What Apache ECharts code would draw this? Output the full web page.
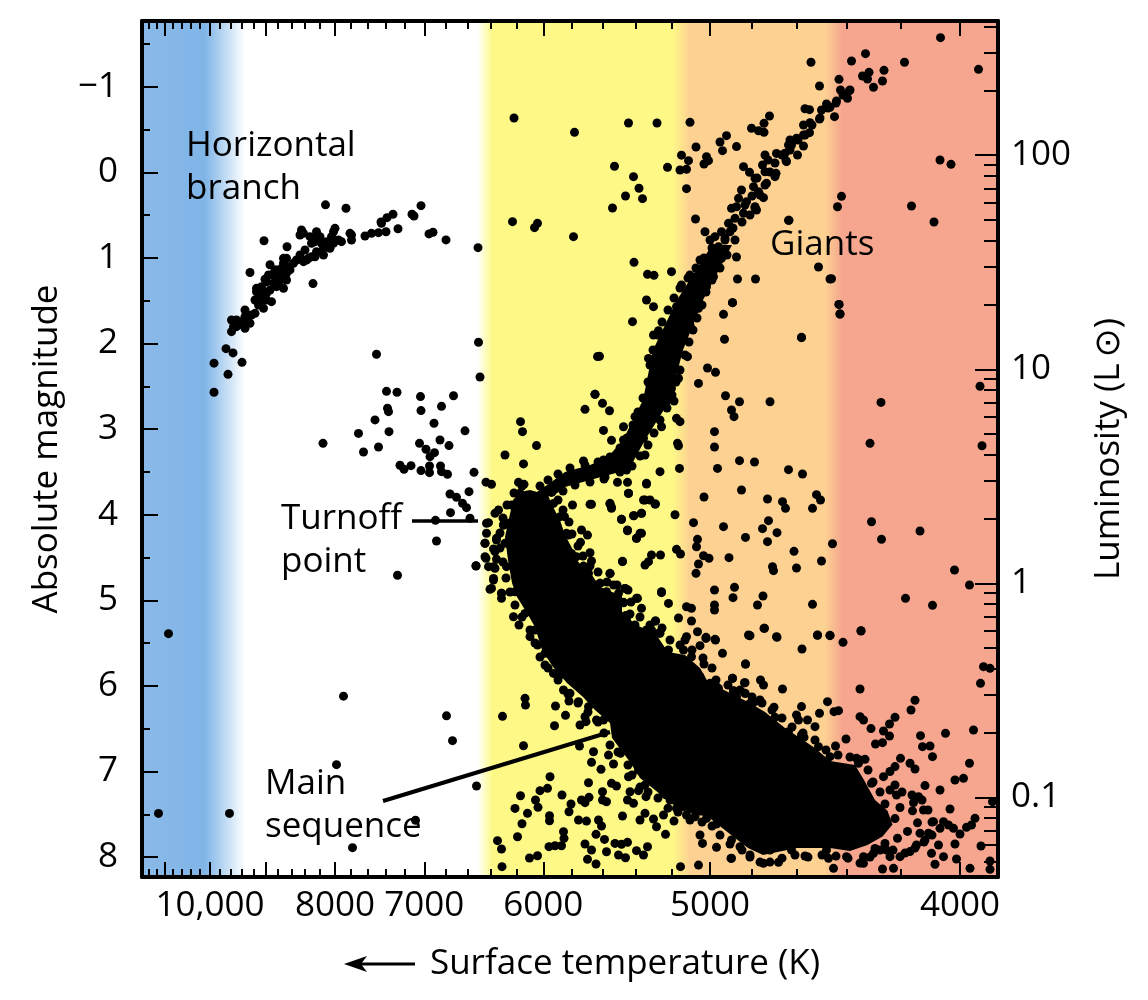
<!DOCTYPE html>
<html><head><meta charset="utf-8"><style>html,body{margin:0;background:#fff}#c{width:1148px;height:1000px}</style>
<script src="https://cdn.jsdelivr.net/npm/echarts@6/dist/echarts.min.js"></script></head><body><div id="c"></div>
<script>
// x values are inverse temperature in mired (1e6/T), y values are absolute magnitude
const xMajorTemps=[11000,10000,9000,8000,7000,6000,5000,4000];
const xLabelTemps=[10000,8000,7000,6000,5000,4000];
const xMinorTemps=[11400,11200,10800,10600,10400,10200,9800,9600,9400,9200,8800,8600,8400,8200,7800,7600,7400,7200,6800,6600,6400,6200,5800,5600,5400,5200,4800,4600,4400,4200];
const magMajor=[-1,0,1,2,3,4,5,6,7,8];
const magMinor=[-1.5,-0.5,0.5,1.5,2.5,3.5,4.5,5.5,6.5,7.5];
const lumMajor=[100,10,1,0.1];
const lumMinor=[400,300,200,90,80,70,60,50,40,30,20,9,8,7,6,5,4,3,2,0.9,0.8,0.7,0.6,0.5,0.4,0.3,0.2,0.09,0.08,0.07,0.06,0.05];

const horizontalBranch=[[123.1,.38],[127.2,.42],[142.2,.39],[136.6,.49],[140.4,.49],[140.8,.51],[135.4,.53],[134.2,.58],[137.6,.66],[144.6,.70],[143.8,.72],[147.2,.79],[153.6,.88],[110.8,.80],[115.4,.87],[108,1.17],[120.6,1.30],[131,.744],[132.3,.713],[133.7,.705],[135.2,.694],[134.3,.596],[128.3,.733],[128.3,.791],[125,.655],[126.3,.81],[124,.888],[124.3,.752],[121.3,.694],[120,.752],[118.3,.674],[118,.733],[121,.81],[122.3,.83],[122.7,.966],[121,.986],[119.3,1.025],[118,.966],[118.7,1.044],[115.3,1.005],[114.7,1.063],[116,1.14],[113,1.14],[111.7,1.2],[114,1.18],[115.3,1.258],[113.3,1.239],[114.7,1.356],[112.7,1.297],[110.3,1.336],[109.3,1.395],[111.3,1.414],[112.3,1.511],[109,1.492],[110.7,1.589],[109,1.648],[107,1.609],[107.3,1.726],[104.3,1.726],[106,1.745],[108,1.764],[107,1.823],[105.3,1.803],[104.3,1.862],[112,1.08],[113.6,1.3],[111,1.25],[100.8,2.23],[103.2,2.06],[104.6,2.11],[106.4,2.22],[103.6,2.36],[100.8,2.57],[123.3,.81],[122,.752],[120.3,.83],[119,.908],[117.3,1.025],[116.7,1.063],[115.7,1.102],[114.3,1.122],[114,1.258],[112.3,1.2],[113.3,1.336],[112,1.375],[110.7,1.395],[110,1.453],[111.3,1.492],[109.7,1.55],[110.3,1.511],[108.3,1.667],[107,1.687],[106.7,1.784],[105.3,1.726],[104.7,1.803],[125.7,.791],[124.7,.83],[122.7,.888],[121.3,.927],[120.3,.986],[119.7,1.005],[115.3,1.18],[115,1.219],[113.3,1.141],[111.3,1.278],[109.3,1.356],[118.7,.713],[121.3,.752],[124.7,.694],[128,.713],[114.7,1.005]];
const hotFieldStars=[[91.7,5.39],[89.7,7.49],[103.9,7.49],[126.7,6.12],[147.3,6.35],[148.5,6.64],[125.3,6.92],[153.3,7.17],[141.1,7.57],[128.5,7.89]];
const blueStragglers=[[133.3,2.126],[135.3,2.559],[137.4,2.57],[142.1,2.62],[148.7,2.61],[146.3,2.734],[135.5,2.757],[135.7,2.796],[142.2,2.784],[133,2.893],[144.8,2.932],[135.8,3.03],[129.7,3.05],[151,3.02],[146,3.127],[141.9,3.166],[147.8,3.193],[122.6,3.166],[133.7,3.209],[130.7,3.267],[143.2,3.236],[144.9,3.275],[144,3.322],[138,3.423],[140.2,3.427],[138.8,3.47],[143.9,3.431],[146.1,3.431],[142.2,3.485],[143.9,3.509],[146.3,3.497],[147.5,3.528],[152.8,3.505],[151.8,3.731],[148,3.758],[149.3,3.797],[150.5,3.867],[151.3,3.918],[148.1,3.976],[152,4.042],[145.1,4.066],[145.3,4.307],[137.5,4.708],[153.7,1.986],[154,2.391],[155.2,3.62],[156.3,3.645],[162.1,2.913],[162.5,3.03],[159,3.302],[165.3,3.193],[162.7,3.407],[177,2.594],[175,2.769],[177.5,2.153],[174.7,3.372],[161.7,3.622],[162.8,3.645],[157.7,3.945],[155.7,4.093],[155.3,4.217],[155,4.334],[157.3,4.276],[158.7,4.12],[155.2,4.51],[153.2,4.6],[155.7,4.607],[157,4.626],[156.7,4.763],[156,4.871],[158.3,4.918],[158.3,4.977],[156.7,4.4],[157.3,4.52]];
const giantFieldStars=[[160.8,-.634],[172.9,-.467],[183.7,-.576],[189.4,-.576],[196,-.584],[220.2,-1.285],[221.9,-1.008],[180.9,-.07],[191.5,-.058],[184.7,.051],[185.8,.187],[183.1,.277],[186.5,.308],[180.5,.417],[195.3,.191],[194.3,-.2],[195.7,-.136],[194,-.027],[195.3,-.035],[197.2,-.295],[199.3,-.183],[199.7,-.136],[198.8,-.097],[202,-.354],[203.3,-.428],[202.5,-.253],[205.3,-.3],[208.3,-.514],[209.7,-.486],[210.8,-.467],[210.8,-.572],[211.9,-.658],[160.5,.577],[165.5,.596],[164.9,.647],[172.7,.752],[197.1,.546],[184.8,1.052],[187.5,1.192],[188.8,1.204],[192.3,1.161],[205.3,.99],[205.5,1.247],[209.1,1.247],[204.5,1.523],[215.7,.561],[221.7,1.106],[224,1.247],[187.3,1.492],[188.7,1.57],[246.1,-1.573],[231.1,-1.386],[228.3,-1.3],[238.9,-1.285],[253.7,-1.203],[234.8,-1.191],[231.8,-1.168],[230.5,-1.125],[231.5,-1.09],[225.8,-1.086],[234.5,-1.067],[232.7,-.993],[226.1,-.961],[227.9,-.954],[246,-.144],[248.2,-.093],[226.3,.281],[225.5,.402],[240.3,.394],[244.8,.581],[215.8,.561],[224.3,1.243],[225.8,1.543],[226,1.655],[218.3,1.932]];
const giantBranch=[[227.5,-.864],[225.3,-.833],[223.3,-.798],[224,-.759],[222.3,-.728],[219,-.743],[219.9,-.732],[224.9,-.65],[221.9,-.623],[220,-.58],[218.7,-.553],[219.9,-.463],[218.7,-.436],[217.3,-.397],[216,-.377],[216.3,-.319],[218.7,-.307],[217.5,-.202],[215,-.222],[215.2,-.136],[215.7,-.319],[213.3,-.221],[215.3,-.124],[211,-.202],[210.5,-.085],[206.7,-.066],[207.9,0],[211,-.007],[213.2,.012],[213,.051],[211.3,.129],[209,.07],[208.7,.168],[206.3,.207],[209.7,.226],[210.7,.296],[205.7,.304],[207.3,.343],[209,.402],[205.3,.402],[204.3,.421],[206.7,.479],[209.3,.44],[205,.538],[203.7,.596],[204,.694],[202.3,.694],[203,.791],[201,.752],[201.7,.869],[199,.694],[200,.791],[200.7,.986],[198,1.025],[199.3,1.083],[202.3,1.005],[200.7,1.219],[196,1.2],[198.7,1.18],[197.3,1.258],[199.3,1.336],[194.3,1.317],[196.7,1.375],[195.3,1.453],[197.7,1.511],[193.3,1.57],[196,1.57],[187.7,2.174],[196,1.784],[197.7,1.589],[192.3,2.524],[191.3,2.68],[185,2.855],[182.7,3.127],[178.7,3.361],[177,3.459],[183.3,3.478],[186.7,3.108],[203,.768],[204.6,.651],[206.4,.581],[208,.499],[207,.382],[209,.417],[208.4,.277],[210,.265],[211,.148],[209.4,.067],[212,-.004],[213,-.109],[211.6,-.144],[214.4,-.202],[216,-.26],[217.6,-.377],[219,-.436],[220.4,-.553],[222,-.634],[223.6,-.751],[225.2,-.81],[226.6,-.903],[228,-.961]];
const giantBranchRim=[[167.6,3.595],[169.6,3.525],[172,3.454],[175,3.419],[177.6,3.384],[180,3.326],[182,3.221],[183.4,3.104],[184.6,2.952],[185.6,2.8],[186.6,2.637],[187.6,2.45],[188,2.251],[188.6,2.076],[189.6,1.901],[190.4,1.749],[191.6,1.609],[192.8,1.469],[194,1.352],[195.6,1.235],[197.2,1.118],[198.8,1.001],[200.4,.884],[205,.791],[203.4,.966],[202,1.118],[200.4,1.258],[199.2,1.398],[198.4,1.55],[197.4,1.702],[196.6,1.842],[195.8,1.983],[195,2.134],[194,2.31],[193.2,2.45],[192.4,2.602],[191.4,2.753],[190,2.894],[188.8,3.046],[187.6,3.186],[186,3.314],[184.4,3.431],[182,3.501],[179,3.56],[176,3.618],[173,3.653],[170.6,3.723]];
const coolFieldStars=[[204.5,1.523],[202.7,1.659],[225.8,1.543],[226,1.656],[202.9,1.951],[218.3,1.928],[184.5,1.745],[188.7,1.901],[189.7,1.85],[177.9,2.15],[195.5,2.154],[199.5,2.286],[201.1,2.337],[193.7,2.407],[197.7,2.466],[254,2.5],[177,2.594],[203.1,2.61],[205.9,2.68],[212,2.68],[234.2,2.688],[178.5,2.699],[179.9,2.785],[204.3,2.777],[204.8,2.855],[192.8,2.672],[193.3,2.874],[194,2.913],[182.7,2.972],[178.7,3.015],[180.3,3.131],[190.3,2.972],[200.9,3.03],[193.5,3.166],[193.7,3.194],[200.9,3.209],[232,3.166],[254.4,3.194],[205.9,3.369],[208.9,3.385],[201.5,3.459],[193.9,3.459],[215.7,3.474],[218.5,3.525],[190,3.497],[187.3,3.634],[187,3.303],[183.5,3.622],[181.5,3.622],[178.8,3.583],[183.7,3.75],[206.3,3.712],[198.8,3.793],[211.5,3.817],[221.3,3.766],[222.1,3.828],[214.5,3.848],[215.1,3.926],[220.5,3.926],[186.7,3.828],[188,3.828],[189.1,3.875],[180,3.867],[180.3,3.914],[176.3,3.879],[186.3,3.984],[184.8,4.011],[182.3,4.054],[193,4],[196.7,4.093],[202.7,4.14],[211.7,4.07],[210.5,4.163],[213.4,4.21],[232.3,4.082],[242,4.191],[234.3,4.288],[183.5,4.187],[186,4.218],[185.3,4.276],[207.1,4.265],[211.5,4.315],[224.5,4.339],[197.5,4.288],[197.3,4.374],[193.3,4.405],[194.1,4.459],[190.1,4.471],[188.3,4.471],[198.7,4.479],[199.8,4.51],[203.8,4.502],[216.8,4.428],[222.3,4.541],[182.5,4.549],[187.7,4.549],[187,4.588],[197.7,4.576],[197.2,4.685],[248.9,4.646],[251.9,4.821],[212.5,4.607],[217.3,4.623],[212.7,4.654],[180,4.689],[200.9,4.88],[204.9,4.849],[204.6,4.969],[210.6,4.95],[239.1,4.977],[244.5,5.059],[220.5,5.047],[209.5,5.055],[200.9,5.055],[200.9,5.114],[195.3,5.075],[196.3,5.094],[190.3,4.911],[191.7,5.036],[185.5,4.977],[182.7,5.024],[186.3,5.094],[183.1,5.18],[189.1,5.242],[193.7,5.207],[196.3,5.242],[197.5,5.367],[210.8,5.328],[208,5.413],[213.3,5.425],[221.5,5.405],[224,5.413],[230.2,5.355],[195.3,5.425],[199.2,5.433],[201,5.456],[188.3,5.347],[190,5.386],[178,4.802],[180.7,4.821],[183,4.861]];
const mainSequenceUpperFringe=[[172.5,3.887],[176,3.879],[170.9,4.023],[180,3.875],[180.3,3.926],[183.7,3.751],[187.3,3.642],[187,3.829],[189,3.875],[186.3,3.984],[184.7,4.012],[182.3,4.054],[183.5,4.179],[186.3,4.218],[185.3,4.276],[174.3,4.179],[175.5,4.238],[171.7,4.238],[174.1,4.323],[176,4.444],[176.3,4.541],[182.5,4.545],[173.3,4.49],[174.7,4.6],[175.7,4.685],[180,4.685],[178,4.802],[183,4.861],[179.3,4.9],[181.7,4.919],[185.3,4.977],[190.3,4.9],[182.7,5.028],[183.2,5.18],[189.1,5.242],[185,5.289],[187.3,5.347],[189.7,5.386],[195,5.464],[199.2,5.445],[201.1,5.464],[198,5.53],[207.7,5.406],[202.5,5.62],[207.1,5.745],[204.5,5.912],[207,5.963],[207,6.087],[204.7,6.056],[191.7,5.581],[194.7,5.581],[196.3,5.659],[198.8,5.745],[192.7,5.698],[197.3,5.873],[200,5.97],[201.7,6.029],[168.7,3.868],[170,4.023],[171.3,4.218],[172.3,4.452],[174.7,4.646],[177.3,4.841],[180,5],[183.3,5.23],[186.7,5.386],[194.7,5.737],[198,5.892],[201.3,6.009],[205.3,6.126],[208,6.204]];
const mainSequenceLeftFringe=[[153.2,4.596],[157,3.984],[155.3,4.101],[158.7,4.12],[155,4.335],[157.3,4.296],[155,4.491],[157,4.432],[156.7,4.607],[156.3,4.861],[158.3,4.919],[156.7,4.744],[160.7,5.192],[161.8,5.289],[164,5.425],[165.5,5.523],[167,5.756],[168.7,5.854],[170.7,6.048],[171.8,6.177],[173.7,6.185],[175,6.36],[177.3,6.399],[163,6.145],[163.1,6.224],[169.1,6.235],[171.1,6.344],[158.5,6.356],[168.9,6.465],[174,6.457],[175.2,6.418],[162.7,6.699],[162,3.75],[160.3,3.887],[159.7,4.1],[159,4.335],[159.3,4.607],[161,4.9],[163,5.153],[165,5.347],[167,5.62],[169.7,5.893],[172,6.087],[175.7,6.243],[178.7,6.399]];
const mainSequenceLowerFringe=[[173.9,6.702],[176.7,6.769],[179.7,6.808],[176.3,6.893],[180.7,6.913],[178.2,6.975],[182.1,6.788],[184.7,6.827],[185.7,6.983],[183.7,7.061],[175.7,7.131],[180.3,7.138],[181.3,7.17],[168,7.061],[167.5,7.197],[166,7.224],[162.1,7.283],[165.1,7.333],[170.4,7.275],[172.2,7.38],[171.8,7.47],[165.6,7.419],[161,7.431],[163.5,7.489],[174.3,7.333],[175.8,7.302],[175,7.364],[178.5,7.236],[178.5,7.333],[179.3,7.353],[167.9,7.516],[167.9,7.575],[162.4,7.61],[161.5,7.762],[157.5,7.808],[158.3,7.906],[173.7,7.567],[175.3,7.579],[177.7,7.567],[178.3,7.637],[170.7,7.703],[170.8,7.781],[170.3,7.867],[169,7.867],[167.8,7.878],[182.5,7.52],[177.2,7.734],[178.9,7.793],[181,7.84],[182.3,7.851],[183.5,7.828],[175,7.847],[176.3,7.917],[175.5,8.026],[177.2,8.081],[179.3,7.937],[181.7,7.976],[183.1,8.007],[185.3,7.925],[186.7,7.976],[187.5,7.879],[165.5,7.984],[163.9,8.011],[158.4,8.112],[183.5,7.333],[184.7,7.372],[186,7.567],[187,7.489],[188.7,7.555],[189.3,7.645],[190.7,7.508],[191.1,7.734],[192.8,7.579],[187.2,7.294],[185.7,7.224],[184,7.236],[188.5,7.068],[187,7.158],[191.3,7.275],[192,7.333],[193.3,7.431],[195.3,7.508],[197,7.528],[199.3,7.547],[201.3,7.614],[198,7.742],[198.5,7.84],[201.3,7.886],[197.7,8.093],[194.1,8.112],[204.2,8.015],[204.3,7.8],[203,7.614],[206,7.879],[182.7,6.671],[185.3,6.905],[188,7.1],[190.7,7.255],[194.7,7.411]];
const mainSequenceRim=[[166,3.665],[168.4,3.735],[169.6,3.828],[170.6,3.945],[171.8,4.085],[172.4,4.225],[173.6,4.366],[174.6,4.483],[176,4.599],[177.6,4.669],[179.4,4.786],[181.4,4.821],[183.6,4.88],[184.2,5.02],[184,5.16],[186,5.195],[188,5.289],[190.4,5.324],[192,5.464],[194,5.522],[196.4,5.581],[198.6,5.674],[200.4,5.791],[201.2,5.931],[203.6,5.989],[206,6.048],[208.4,6.13],[210.4,6.2],[212.4,6.282],[214.4,6.375],[216.4,6.48],[218.6,6.55],[221,6.632],[223.2,6.749],[225.6,6.807],[228,6.831],[230,6.866],[231.6,6.983],[232.6,7.123],[234,7.24],[236,7.216],[238.4,7.24],[240.4,7.275],[242.4,7.333],[243.6,7.45],[244.4,7.591],[244.4,7.743],[242.8,7.824],[241,7.894],[239,7.953],[236.6,7.918],[234,7.918],[232,8],[230,8.07],[227.6,8.012],[225.2,7.988],[222.4,7.976],[219.6,8],[217,7.976],[214.4,8.012],[212,8.058],[210,8.058],[208,8],[206.4,7.918],[204,7.848],[202,7.743],[200.4,7.638],[198.4,7.591],[196,7.568],[193.6,7.474],[191.6,7.428],[189.6,7.31],[187.6,7.24],[186,7.182],[184.4,7.041],[183.6,6.924],[181.6,6.772],[180,6.69],[178.8,6.55],[177.6,6.422],[175.6,6.305],[173.6,6.2],[171.6,6.095],[169.6,5.931],[167.6,5.791],[166,5.662],[165,5.499],[164,5.347],[162.4,5.195],[161,5.055],[160,4.903],[159.2,4.739],[158.6,4.553],[158,4.39],[158,4.214],[158.6,4.039],[159.4,3.887],[160.8,3.747],[162.4,3.665]];
const mainSequenceTail=[[235,7.38],[238,7.42],[240.5,7.46],[237,7.55],[241.5,7.6],[239.5,7.7],[237.5,7.78],[235,7.84],[233,7.9],[242,7.72]];
const coolDwarfStars=[[207.9,5.413],[210.9,5.327],[213.4,5.432],[221.5,5.409],[224,5.409],[230.2,5.359],[226.6,5.491],[218.4,5.569],[207.1,5.744],[204.5,5.911],[206.9,5.962],[210.1,5.931],[210.7,5.989],[207,6.087],[214.5,6.036],[204.7,6.059],[230,6.036],[223.5,6.184],[241,6.168],[240.2,6.281],[209,6.184],[210,6.165],[212.8,6.25],[218.3,6.242],[221.9,6.32],[224.8,6.301],[225.7,6.289],[217.3,6.34],[213,6.367],[217.7,6.398],[219.5,6.398],[221,6.476],[230,6.359],[230.7,6.398],[232.2,6.499],[237,6.367],[235.9,6.445],[234.7,6.527],[235.9,6.585],[242.1,6.581],[247.1,6.554],[252.7,6.515],[227.2,6.62],[225.1,6.702],[221.7,6.71],[233.1,6.679],[234.5,6.663],[242.5,6.71],[244,6.702],[244.5,6.827],[251.9,6.904],[254.1,5.97],[254.7,5.775],[256,5.795],[215.7,6.535],[218.3,6.573],[218.8,6.601],[224,6.827],[229.3,6.846],[231,6.858],[229.7,6.904],[238.1,6.846],[240,6.904],[241,6.971],[237,6.943],[236,7],[234.7,7.06],[232.3,7.138],[237,7.158],[243,7.165],[246,7.216],[249,7.099],[250.7,7.08],[237.3,7.274],[241.7,7.294],[240.7,7.364],[248,7.438],[256.5,7.352],[242.7,7.45],[253,7.547],[252.3,7.625],[251.3,7.652],[244.7,7.586],[246.7,7.586],[247.7,7.625],[248.7,7.664],[250,7.73],[243.7,7.722],[246,7.664],[249,7.847],[245.7,7.859],[254.2,7.87],[244.3,7.956],[246.7,7.995],[249.3,8.022],[245,8.084],[252,8.131],[256,8.046],[256,8.143],[240,7.936],[241.3,7.859],[243,7.8],[238,7.995],[236.7,8.131],[234.5,8.139],[230.7,8.073],[227.3,7.995],[224.7,8.131],[213.7,8.061],[210.7,8.073],[223.7,8.014],[219,7.987],[216.3,7.917],[204.3,8.014],[208,7.975],[212,7.917],[223.3,7.917],[235.3,7.917],[230.7,7.995],[232.7,7.956],[236,7.995]];
// outlines of the regions where stars overlap into solid black
const mainSequenceEnvelope=[[164,3.712],[167.6,3.77],[168.4,3.887],[170,4.062],[171,4.237],[172.4,4.389],[173.4,4.529],[174.6,4.622],[176.4,4.705],[178,4.845],[182.4,4.95],[182.4,5.137],[185.2,5.289],[189,5.383],[191.6,5.605],[195,5.64],[198,5.792],[199.6,5.955],[204,6.083],[208,6.2],[211,6.305],[215,6.492],[218,6.609],[221,6.726],[224,6.877],[229,6.924],[230.8,7.099],[233,7.333],[235.5,7.46],[236.5,7.62],[234.5,7.76],[231.5,7.86],[228,7.93],[224,7.894],[217.4,7.894],[210.6,7.976],[207.6,7.894],[205,7.777],[199.4,7.52],[197,7.508],[192.4,7.379],[189,7.216],[186,7.076],[184,6.889],[180.4,6.609],[180,6.434],[177,6.282],[174.6,6.13],[171.4,5.967],[168.6,5.78],[166.4,5.581],[165,5.312],[163.4,5.149],[161.4,4.962],[160.4,4.798],[159.6,4.529],[159,4.26],[160.6,3.828],[162,3.735]];
const giantBranchEnvelope=[[165,3.75],[168,3.63],[171,3.501],[176,3.419],[179.4,3.337],[182.6,3.127],[186.6,2.66],[188.6,2.076],[193.4,1.492],[200.4,.849],[204.4,.849],[198.6,1.492],[194.6,2.076],[192,2.66],[187,3.127],[184.6,3.384],[183.4,3.478],[176,3.595],[171,3.676],[168.4,3.793]];
const turnoffLeader=[[140.4,4.073],[153.6,4.073]];
const mainSequenceLeader=[[134.6,7.345],[180,6.539]];
const annotations=[[95.2,-0.05,'Horizontal\nbranch'],[114.2,4.3,'Turnoff\npoint'],[111,7.4,'Main\nsequence'],[212,.85,'Giants']];
const bandStops=[[86.4,'#8ab9e8'],[99,'#80b5e8'],[107,'#ffffff'],[153.5,'#ffffff'],[156.5,'#fef987'],[192.4,'#fef987'],[196,'#fcd192'],[223,'#fcd192'],[226.4,'#f6a68e'],[257.6,'#f6a68e']];

const FONT='"Open Sans","DejaVu Sans",sans-serif', FS=35;
const xMin=86.4,xMax=257.6,yMin=-1.7675,yMax=8.2325,lumMax=423.6,lumMin=0.04246;
const mired=t=>1e6/t;
const el=document.getElementById('c');
const chart=echarts.init(el,null,{renderer:'canvas'});
const gradient=new echarts.graphic.LinearGradient(0,0,1,0,bandStops.map(([m,c])=>({offset:(m-xMin)/(xMax-xMin),color:c})));
const xA=(pos,ticks,len,labels,line,extra)=>Object.assign({type:'value',position:pos,min:xMin,max:xMax,splitLine:{show:false},
  axisLine:{show:line,onZero:false,lineStyle:{color:'#000',width:4}},
  axisTick:{show:true,inside:true,length:len,customValues:ticks,lineStyle:{color:'#000',width:2}},
  axisLabel:labels?{show:true,customValues:labels,margin:12,fontFamily:FONT,fontSize:FS,color:'#000',hideOverlap:false,
    formatter:v=>{const t=Math.round(1e6/v);return t>=10000?t.toLocaleString('en-US'):String(t);}}:{show:false}},extra||{});
const yA=(pos,type,min,max,ticks,len,labels,line,extra)=>Object.assign({type,position:pos,min,max,splitLine:{show:false},
  axisLine:{show:line,onZero:false,lineStyle:{color:'#000',width:4}},
  axisTick:{show:true,inside:true,length:len,customValues:ticks,lineStyle:{color:'#000',width:2}},
  axisLabel:labels?{show:true,customValues:labels,margin:pos==='left'?24:13,fontFamily:FONT,fontSize:FS,color:'#000',hideOverlap:false,
    formatter:v=>String(v).replace('-','\u2212')}:{show:false}},extra||{});
const polygon=(name,pts)=>({type:'custom',name,xAxisIndex:0,yAxisIndex:0,z:3,silent:true,clip:true,data:pts,
  renderItem:(p,api)=>p.dataIndex===0?{type:'polygon',shape:{points:pts.map(d=>api.coord(d))},style:{fill:'#000'}}:null});
const dots=(name,data)=>({type:'scatter',name,xAxisIndex:0,yAxisIndex:0,z:4,silent:true,symbol:'circle',symbolSize:9,itemStyle:{color:'#000',opacity:1},large:false,data,clip:true});
const leader=(name,data,w)=>({type:'line',name,xAxisIndex:0,yAxisIndex:0,z:5,silent:true,symbol:'none',lineStyle:{color:'#000',width:w},data});
chart.setOption({
  animation:false,backgroundColor:'#fff',
  grid:{show:true,left:142,right:150,top:21,bottom:123,borderWidth:0,backgroundColor:gradient},
  xAxis:[
    xA('bottom',xMajorTemps.map(mired),15,xLabelTemps.map(mired),true,{name:'Surface temperature (K)',nameLocation:'middle',nameGap:70,nameTextStyle:{fontFamily:FONT,fontSize:FS,color:'#000',padding:[0,0,0,110]}}),
    xA('bottom',xMinorTemps.map(mired),8,null,false),
    xA('top',xMajorTemps.map(mired),15,null,true),
    xA('top',xMinorTemps.map(mired),8,null,false)
  ],
  yAxis:[
    yA('left','value',yMin,yMax,magMajor,16,magMajor,true,{inverse:true,name:'Absolute magnitude',nameLocation:'middle',nameGap:77,nameRotate:90,nameTextStyle:{fontFamily:FONT,fontSize:FS,color:'#000'}}),
    yA('left','value',yMin,yMax,magMinor,8,null,false,{inverse:true}),
    yA('right','log',lumMin,lumMax,lumMajor,23,lumMajor,true,{logBase:10,name:'Luminosity (L\u2009\u2299)',nameLocation:'middle',nameGap:94,nameRotate:90,nameTextStyle:{fontFamily:FONT,fontSize:FS,color:'#000'}}),
    yA('right','log',lumMin,lumMax,lumMinor,14,null,false,{logBase:10})
  ],
  series:[
    polygon('Main sequence core',mainSequenceEnvelope),
    polygon('Giant branch core',giantBranchEnvelope),
    dots('Horizontal branch',horizontalBranch),dots('Hot field',hotFieldStars),dots('Blue stragglers',blueStragglers),
    dots('Giant field',giantFieldStars),dots('Giant branch',giantBranch),dots('Giant rim',giantBranchRim),dots('Cool field',coolFieldStars),
    dots('MS upper',mainSequenceUpperFringe),dots('MS left',mainSequenceLeftFringe),dots('MS lower',mainSequenceLowerFringe),dots('MS rim',mainSequenceRim),dots('MS tail',mainSequenceTail),dots('Cool dwarfs',coolDwarfStars),
    leader('Turnoff leader',turnoffLeader,3.5),leader('Main sequence leader',mainSequenceLeader,4),
    {type:'scatter',name:'Annotations',xAxisIndex:0,yAxisIndex:0,z:6,silent:true,symbolSize:0,itemStyle:{opacity:1},data:annotations.map(a=>({value:[a[0],a[1]],name:a[2]})),
     label:{show:true,position:'right',distance:0,formatter:p=>p.name,fontFamily:FONT,fontSize:FS,lineHeight:43,color:'#000',align:'left'}}
  ],
  graphic:[
    {type:'line',shape:{x1:356,y1:964,x2:415,y2:964},style:{stroke:'#000',lineWidth:3}},
    {type:'polygon',shape:{points:[[344,964],[367,956],[361,964],[367,972]]},style:{fill:'#000'}}
  ]
});
</script></body></html>
